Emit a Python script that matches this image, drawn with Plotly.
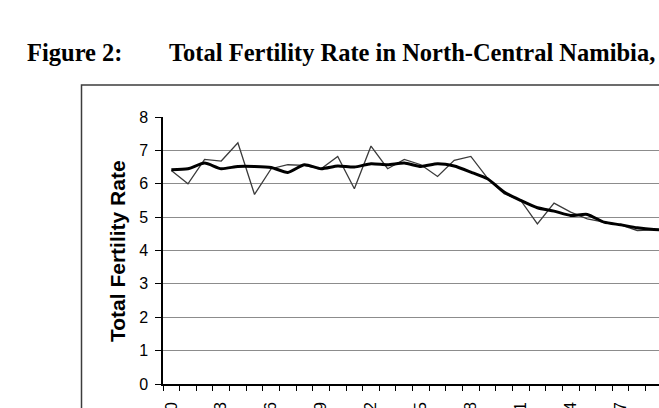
import plotly.graph_objects as go

years = list(range(1960, 1991))
tfr_annual = [6.40, 6.00, 6.73, 6.68, 7.23, 5.68, 6.45, 6.57, 6.55, 6.45,
              6.82, 5.85, 7.13, 6.45, 6.73, 6.57, 6.22, 6.70, 6.82, 6.17,
              5.70, 5.50, 4.80, 5.42, 5.15, 4.95, 4.85, 4.77, 4.60, 4.63,
              4.64]
tfr_smoothed = [6.42, 6.45, 6.62, 6.45, 6.52, 6.52, 6.49, 6.34, 6.57, 6.45,
                6.53, 6.50, 6.60, 6.57, 6.62, 6.52, 6.60, 6.53, 6.35, 6.15,
                5.75, 5.50, 5.28, 5.18, 5.05, 5.08, 4.85, 4.77, 4.68, 4.63,
                4.62]
label_years = list(range(1960, 1991, 3))
y_ticks = [0, 1, 2, 3, 4, 5, 6, 7, 8]

W, H = 659, 408
L, R, T, B = 163, 0, 117, 24
pw, ph = W - L - R, H - T - B

def px_x(p):
    return (p - L) / pw

def px_y(p):
    return (H - B - p) / ph

fig = go.Figure()
fig.add_trace(go.Scatter(x=years, y=tfr_annual, mode="lines",
                         line=dict(color="#3a3a3a", width=1.3),
                         showlegend=False, hoverinfo="skip"))
fig.add_trace(go.Scatter(x=years, y=tfr_smoothed, mode="lines",
                         line=dict(color="#000000", width=3, shape="spline", smoothing=0.6),
                         showlegend=False, hoverinfo="skip"))

sans = "Liberation Sans, Arial, sans-serif"
serif = "Liberation Serif, Times New Roman, serif"

fig.update_layout(
    width=W, height=H,
    margin=dict(l=L, r=R, t=T, b=B, pad=0, autoexpand=False),
    paper_bgcolor="white", plot_bgcolor="white",
    xaxis=dict(range=[1959.5, 1959.5 + pw / 16.64], automargin=False,
               tickmode="array", tickvals=label_years,
               ticktext=[str(y) for y in label_years],
               tickangle=-90, ticks="outside", ticklen=10,
               tickcolor="rgba(0,0,0,0)",
               tickfont=dict(family=sans, size=16, color="#000"),
               showline=True, linecolor="#000", linewidth=1.5,
               showgrid=False, zeroline=False,
               minor=dict(tickmode="linear", tick0=1959.5, dtick=1,
                          ticks="outside", ticklen=5, tickcolor="#000",
                          tickwidth=1, showgrid=False)),
    yaxis=dict(range=[0, 8], automargin=False, tickmode="array", tickvals=y_ticks,
               ticks="outside", ticklen=6, tickcolor="#000", tickwidth=1,
               ticklabelstandoff=4,
               tickfont=dict(family=sans, size=16, color="#000"),
               showline=True, linecolor="#000", linewidth=1.5,
               showgrid=True, gridcolor="#8c8c8c", gridwidth=1,
               zeroline=False),
)

fig.add_shape(type="rect", xref="paper", yref="paper",
              x0=px_x(81.5), x1=1.2, y0=px_y(440), y1=px_y(85),
              line=dict(color="#3c3c3c", width=1.5), fillcolor="rgba(0,0,0,0)",
              layer="below")

fig.add_annotation(text="<b>Total Fertility Rate</b>", textangle=-90,
                   xref="paper", yref="paper", x=px_x(117), y=px_y(251),
                   xanchor="center", yanchor="middle", showarrow=False,
                   font=dict(family=sans, size=21, color="#000"))

fig.add_annotation(text="<b>Figure 2:</b>", xref="paper", yref="paper",
                   x=px_x(25), y=px_y(52), xanchor="left", yanchor="middle",
                   showarrow=False, font=dict(family=serif, size=24.5, color="#000"))
fig.add_annotation(text="<b>Total Fertility Rate in North-Central Namibia,</b>",
                   xref="paper", yref="paper",
                   x=px_x(167), y=px_y(52), xanchor="left", yanchor="middle",
                   showarrow=False, font=dict(family=serif, size=24.5, color="#000"))

fig.write_html("out.html")
